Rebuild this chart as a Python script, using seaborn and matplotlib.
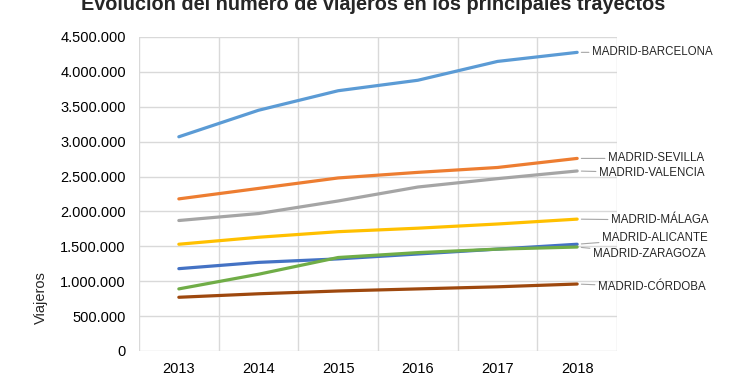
import pandas as pd
import matplotlib.pyplot as plt
import seaborn as sns
from matplotlib.ticker import FuncFormatter, MultipleLocator

years = ['2013', '2014', '2015', '2016', '2017', '2018']
routes = ['MADRID-BARCELONA', 'MADRID-SEVILLA', 'MADRID-VALENCIA', 'MADRID-MÁLAGA',
          'MADRID-ALICANTE', 'MADRID-ZARAGOZA', 'MADRID-CÓRDOBA']
barcelona = [3070000, 3450000, 3730000, 3880000, 4150000, 4280000]
sevilla = [2180000, 2330000, 2480000, 2560000, 2630000, 2760000]
valencia = [1870000, 1970000, 2150000, 2350000, 2470000, 2580000]
malaga = [1530000, 1630000, 1710000, 1760000, 1820000, 1890000]
alicante = [1180000, 1270000, 1320000, 1390000, 1460000, 1530000]
zaragoza = [890000, 1100000, 1340000, 1410000, 1460000, 1490000]
cordoba = [770000, 820000, 860000, 890000, 920000, 960000]
colors = ['#5B9BD5', '#ED7D31', '#A5A5A5', '#FFC000', '#4472C4', '#70AD47', '#9E480E']

series = [barcelona, sevilla, valencia, malaga, alicante, zaragoza, cordoba]
rows = []
for r, vals in zip(routes, series):
    for i, v in enumerate(vals):
        rows.append({'pos': i, 'year': years[i], 'route': r, 'viajeros': v})
df = pd.DataFrame(rows)

sns.set_style('white')
plt.rcParams['font.family'] = ['Liberation Sans', 'DejaVu Sans']

fig = plt.figure(figsize=(7.46, 3.75), dpi=100)
ax = fig.add_axes([139 / 746, 24 / 375, 478 / 746, 314 / 375])

sns.lineplot(data=df, x='pos', y='viajeros', hue='route', hue_order=routes,
             palette=colors, linewidth=2.3, legend=False, ax=ax)

ax.set_xlim(-0.5, 5.5)
ax.set_ylim(0, 4500000)
ax.set_xticks(range(len(years)))
ax.set_xticklabels(years)
ax.set_xticks([i - 0.5 for i in range(len(years) + 1)], minor=True)
ax.yaxis.set_major_locator(MultipleLocator(500000))
ax.yaxis.set_major_formatter(FuncFormatter(lambda v, p: f'{int(v):,}'.replace(',', '.')))
ax.grid(True, which='major', axis='y', color='#d9d9d9', linewidth=1)
ax.grid(True, which='minor', axis='x', color='#d9d9d9', linewidth=1)
ax.grid(False, which='major', axis='x')
ax.tick_params(axis='both', which='both', length=0, labelsize=10.5, colors='#000000')
ax.tick_params(axis='y', pad=9.5)
ax.tick_params(axis='x', pad=8)
for s in ax.spines.values():
    s.set_visible(False)
ax.set_xlabel('')
ax.set_ylabel('')

# labels at line ends, offsets in pixels (dx, dy down)
offsets = [(17, 0), (33, 0), (24, 2), (36, 1), (27, -6), (18, 7), (23, 3)]
for r, vals, (dx, dy) in zip(routes, series, offsets):
    ax.annotate(r, xy=(5, vals[-1]), xytext=((dx - 2) * 0.72, -dy * 0.72),
                textcoords='offset points', fontsize=8.3, va='center', ha='left',
                arrowprops=dict(arrowstyle='-', color='#a6a6a6', lw=0.8,
                                shrinkA=0, shrinkB=3))

fig.text(0.5, 1 - 5 / 375, 'Evolución del número de viajeros en los principales trayectos',
         ha='center', va='center', fontsize=14.3, fontweight='bold')
fig.text(41 / 746, 1 - 298 / 375, 'Viajeros', rotation=90, ha='center', va='center',
         fontsize=10.5)

fig.savefig('out.png', dpi=100)
